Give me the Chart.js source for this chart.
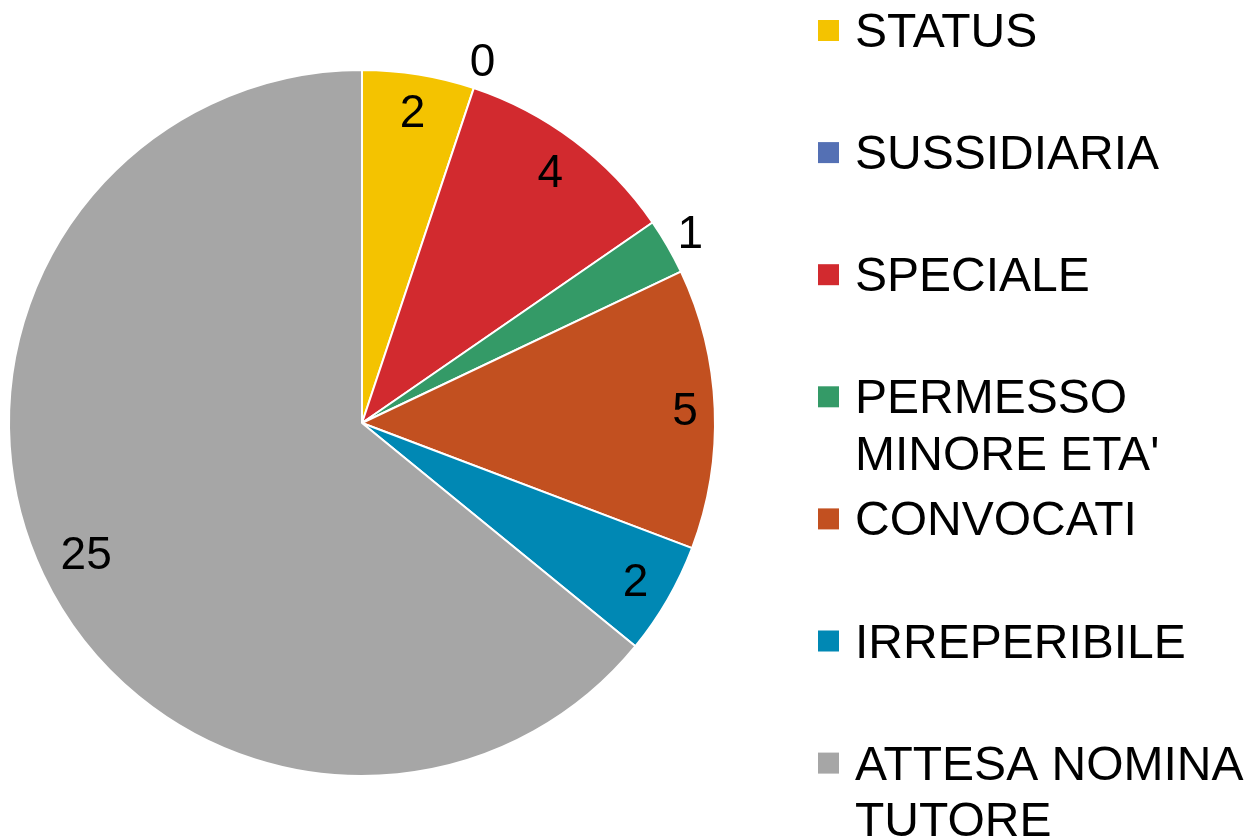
<!DOCTYPE html>
<html>
<head>
<meta charset="utf-8">
<script src="https://cdn.jsdelivr.net/npm/chart.js@4"></script>
<style>
  html, body { margin: 0; padding: 0; background: #fff; }
  #wrap { position: relative; width: 1249px; height: 837px; }
</style>
</head>
<body>
<div id="wrap"><canvas id="pie" width="1249" height="837"></canvas></div>
<script>
// data
const categories = ['STATUS', 'SUSSIDIARIA', 'SPECIALE', "PERMESSO MINORE ETA'", 'CONVOCATI', 'IRREPERIBILE', 'ATTESA NOMINA TUTORE'];
const counts = [2, 0, 4, 1, 5, 2, 25];
const sliceColors = ['#F4C300', '#5470B4', '#D22A2F', '#349A67', '#C25020', '#0088B4', '#A6A6A6'];

const FONT = '"Liberation Sans", Arial, Helvetica, sans-serif';

// value labels: inside for normal slices, just outside for thin ones.
// the label box is kept a fixed gap from the rim (like office "best fit")
const valueLabels = {
    id: 'valueLabels',
    afterDatasetsDraw(chart) {
        const ctx = chart.ctx;
        const arcs = chart.getDatasetMeta(0).data;
        ctx.save();
        ctx.font = '46px ' + FONT;
        ctx.fillStyle = '#000';
        ctx.textAlign = 'center';
        ctx.textBaseline = 'middle';
        arcs.forEach((arc, i) => {
            const { x, y, startAngle, endAngle, outerRadius } = arc.getProps(['x', 'y', 'startAngle', 'endAngle', 'outerRadius'], true);
            const txt = String(counts[i]);
            const span = endAngle - startAngle;
            const mid = (startAngle + endAngle) / 2;
            const c = Math.abs(Math.cos(mid)), s = Math.abs(Math.sin(mid));
            const halfW = ctx.measureText(txt).width / 2, halfH = 20;
            const reach = halfW * c + halfH * s;
            const r = span < 0.2 ? outerRadius + 5 + reach : outerRadius - 16 - reach;
            ctx.fillText(txt, x + Math.cos(mid) * r, y + Math.sin(mid) * r + 2);
        });
        ctx.restore();
    }
};

// legend on the right, wrapped like the original
const sideLegend = {
    id: 'sideLegend',
    afterDraw(chart) {
        const ctx = chart.ctx;
        const boxX = 818, box = 21, textX = 855, maxW = 1249 - textX;
        const firstY = 30.5, step = 122.1, lineH = 56.7;
        ctx.save();
        ctx.font = '48px ' + FONT;
        ctx.textBaseline = 'alphabetic';
        categories.forEach((name, i) => {
            const cy = firstY + i * step;
            ctx.fillStyle = sliceColors[i];
            ctx.fillRect(boxX, cy - box / 2, box, box);
            // word wrap
            const words = name.split(' ');
            const lines = [];
            let cur = '';
            words.forEach(w => {
                const t = cur ? cur + ' ' + w : w;
                if (cur && ctx.measureText(t).width > maxW) { lines.push(cur); cur = w; }
                else cur = t;
            });
            lines.push(cur);
            ctx.fillStyle = '#000';
            lines.forEach((ln, k) => ctx.fillText(ln, textX, cy + 16.5 + k * lineH));
        });
        ctx.restore();
    }
};

new Chart(document.getElementById('pie'), {
    type: 'pie',
    data: {
        labels: categories,
        datasets: [{
            data: counts,
            backgroundColor: sliceColors,
            borderColor: '#ffffff',
            borderWidth: 2
        }]
    },
    options: {
        responsive: false,
        animation: false,
        layout: { padding: { left: 8, top: 69, right: 533, bottom: 60 } },
        plugins: {
            legend: { display: false },
            tooltip: { enabled: false }
        }
    },
    plugins: [valueLabels, sideLegend]
});
</script>
</body>
</html>
